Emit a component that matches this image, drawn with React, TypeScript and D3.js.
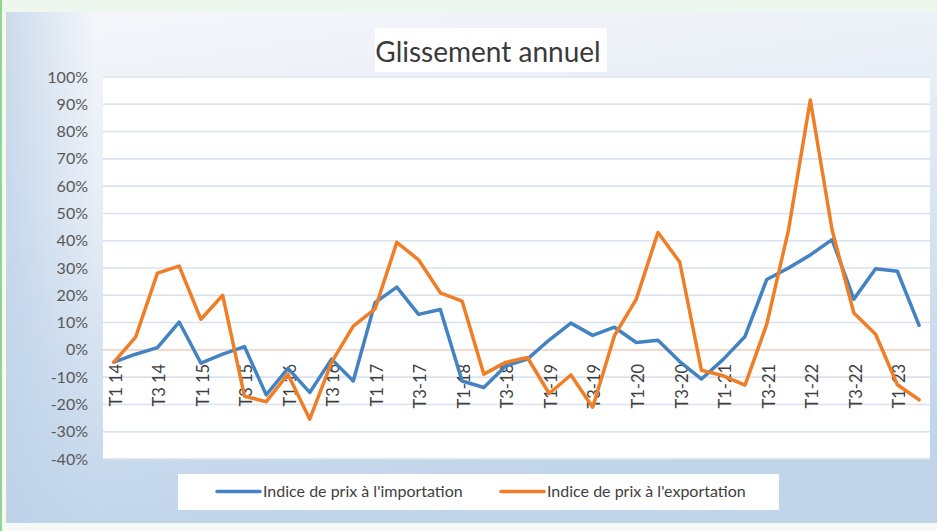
import React from "react";
import * as d3 from "d3";

// quarterly periods, T1 2014 -> T2 2023
const quarters = [
  "T1 14", "T2 14", "T3 14", "T4 14",
  "T1 15", "T2 15", "T3 15", "T4 15",
  "T1 16", "T2 16", "T3 16", "T4 16",
  "T1 17", "T2 17", "T3-17", "T4-17",
  "T1-18", "T2-18", "T3-18", "T4-18",
  "T1-19", "T2-19", "T3-19", "T4-19",
  "T1-20", "T2-20", "T3-20", "T4-20",
  "T1-21", "T2-21", "T3-21", "T4-21",
  "T1-22", "T2-22", "T3-22", "T4-22",
  "T1-23", "T2-23",
];

// Indice de prix à l'importation (%)
const importIndex = [
  -4.5, -1.6, 0.8, 10.2, -4.9, -1.6, 1.2, -16.5, -6.8, -15.6,
  -3.4, -11.4, 17.3, 23, 13, 14.8, -11.4, -13.8, -5.9, -3.4,
  3.6, 9.8, 5.3, 8.3, 2.7, 3.5, -4.3, -10.7, -3.5, 4.9,
  25.8, 30, 34.8, 40.4, 18.6, 29.7, 28.8, 9,
];

// Indice de prix à l'exportation (%)
const exportIndex = [
  -4.5, 4.7, 28.1, 30.7, 11.2, 20, -17, -19, -8.9, -25.4,
  -4.6, 8.7, 15, 39.4, 33, 20.9, 17.9, -8.9, -4.6, -2.8,
  -16, -9.2, -21, 5.2, 18.5, 43, 32.2, -7.5, -9.5, -12.9,
  9.4, 44, 91.6, 44, 13.5, 5.7, -12.8, -18.3,
];

const yTicks = [100, 90, 80, 70, 60, 50, 40, 30, 20, 10, 0, -10, -20, -30, -40];

const seriesNames = ["Indice de prix à l'importation", "Indice de prix à l'exportation"];
const colors = ["#4383c2", "#ef7e26"];

const W = 937;
const H = 531;
const font = "Lato, 'Open Sans', sans-serif";

export default function App() {
  const plot = { left: 103, right: 930, top: 77, bottom: 459 };

  const x = d3
    .scaleBand()
    .domain(quarters)
    .range([plot.left, plot.right]);
  const cx = (q) => x(q) + x.bandwidth() / 2;

  const y = d3.scaleLinear().domain([-40, 100]).range([plot.bottom, plot.top]);

  const line = d3
    .line()
    .x((d, i) => cx(quarters[i]))
    .y((d) => y(d));

  const labels = quarters.filter((q, i) => i % 2 === 0);

  return (
    <svg
      width={W}
      height={H}
      style={{ position: "absolute", left: 0, top: 0, fontFamily: font }}
    >
      <defs>
        <linearGradient id="bg" x1="0" y1="0" x2="0.25" y2="1">
          <stop offset="0" stopColor="#f5f7fa" />
          <stop offset="0.35" stopColor="#e8eef6" />
          <stop offset="1" stopColor="#c0d4ea" />
        </linearGradient>
        <linearGradient id="side" x1="0" y1="0" x2="1" y2="0">
          <stop offset="0" stopColor="#b9cfe7" stopOpacity="0.7" />
          <stop offset="1" stopColor="#b9cfe7" stopOpacity="0" />
        </linearGradient>
      </defs>

      {/* page + frame */}
      <rect x={0} y={0} width={W} height={H} fill="#f6faf6" />
      <rect x={0} y={0} width={W} height={12} fill="#eef7ee" />
      <rect x={6} y={12} width={W - 6} height={511} fill="url(#bg)" />
      <rect x={6} y={12} width={90} height={511} fill="url(#side)" />
      <line x1={6.5} y1={12} x2={6.5} y2={523} stroke="#d8d2c4" />
      <rect x={0} y={0} width={2} height={H} fill="#8fd68f" />

      {/* title */}
      <rect x={375} y={28} width={232} height={44} fill="#ffffff" />
      <text x={488} y={62} textAnchor="middle" fontSize={28} fill="#3a3a3a">
        Glissement annuel
      </text>

      {/* plot area */}
      <rect
        x={plot.left}
        y={plot.top - 1}
        width={plot.right - plot.left}
        height={plot.bottom - plot.top + 1}
        fill="#ffffff"
      />
      {yTicks.map((t) => (
        <g key={t}>
          <line
            x1={plot.left}
            x2={plot.right}
            y1={y(t)}
            y2={y(t)}
            stroke={t === 0 ? "#f2d3c4" : "#d9e2ee"}
            strokeWidth={1.6}
          />
          <text
            x={88}
            y={y(t)}
            dy="0.35em"
            textAnchor="end"
            fontSize={16}
            fill="#595959"
          >
            {t + "%"}
          </text>
        </g>
      ))}

      {/* category labels */}
      {labels.map((q) => (
        <text
          key={q}
          transform={`translate(${cx(q) + 2},${y(0) + 14}) rotate(-90)`}
          dy="0.35em"
          textAnchor="end"
          fontSize={16.5}
          fill="#404040"
        >
          {q}
        </text>
      ))}

      {/* series */}
      {[importIndex, exportIndex].map((s, k) => (
        <path
          key={k}
          d={line(s)}
          fill="none"
          stroke={colors[k]}
          strokeWidth={3.5}
          strokeLinejoin="round"
          strokeLinecap="round"
        />
      ))}

      {/* legend */}
      <rect x={178} y={474} width={601} height={36} fill="#ffffff" />
      {seriesNames.map((n, k) => {
        const lx = k === 0 ? 217 : 501;
        return (
          <g key={n}>
            <line
              x1={lx}
              x2={lx + 43}
              y1={491.5}
              y2={491.5}
              stroke={colors[k]}
              strokeWidth={3.5}
              strokeLinecap="round"
            />
            <text x={lx + 46} y={491.5} dy="0.35em" fontSize={16} fill="#404040">
              {n}
            </text>
          </g>
        );
      })}
    </svg>
  );
}
